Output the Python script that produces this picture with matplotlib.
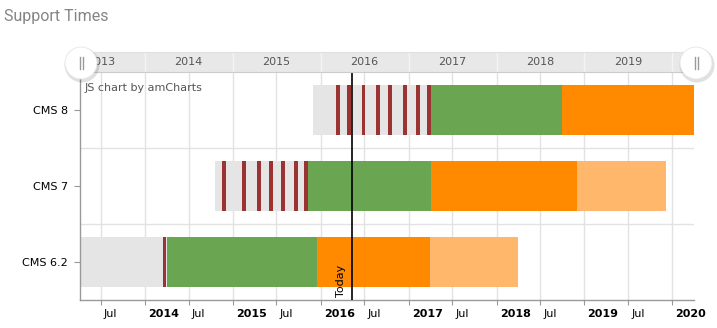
import matplotlib
matplotlib.use("Agg")
import matplotlib.pyplot as plt
import matplotlib.dates as mdates
from matplotlib.patches import Ellipse
from matplotlib.lines import Line2D
from matplotlib.transforms import ScaledTranslation, blended_transform_factory
import numpy as np

# ---------------- data ----------------
versions = ["CMS 6.2", "CMS 7", "CMS 8"]
prerelease_start = ["2012-10-01", "2014-10-19", "2015-11-29"]
mainstream_start = ["2014-04-01", "2015-11-09", "2017-04-03"]
extended_start = ["2015-12-15", "2017-04-03", "2018-10-01"]
extended_end = ["2017-03-31", "2018-12-01", "2020-06-30"]
sustaining_end = ["2018-04-01", "2019-12-05", None]

releases_62 = ["2014-03-15"]
releases_7 = ["2014-11-19", "2015-02-10", "2015-04-13", "2015-06-02",
              "2015-07-22", "2015-09-14", "2015-10-25"]
releases_8 = ["2016-03-06", "2016-04-18", "2016-06-19", "2016-08-17",
              "2016-10-06", "2016-12-07", "2017-01-30", "2017-03-19"]
release_lists = [releases_62, releases_7, releases_8]
release_days = 16

today = "2016-05-09"
axis_start = "2013-04-06"
axis_end = "2020-03-31"

tick_dates = ["2013-07-01", "2014-01-01", "2014-07-01", "2015-01-01", "2015-07-01",
              "2016-01-01", "2016-07-01", "2017-01-01", "2017-07-01", "2018-01-01",
              "2018-07-01", "2019-01-01", "2019-07-01", "2020-01-01"]
tick_labels = ["Jul", "2014", "Jul", "2015", "Jul", "2016", "Jul", "2017", "Jul",
               "2018", "Jul", "2019", "Jul", "2020"]
scroll_years = [2013, 2014, 2015, 2016, 2017, 2018, 2019]

# ---------------- style ----------------
c_grey = "#e5e5e5"
c_red = "#9b3333"
c_green = "#6aa552"
c_orange = "#ff8a00"
c_light = "#ffb76b"

W, H = 717, 328
fig = plt.figure(figsize=(W / 100, H / 100), dpi=100)
plt.rcParams["font.family"] = ["DejaVu Sans"]


def fx(px):
    return px / W


def fy(py):
    return 1 - py / H


d = mdates.datestr2num
x0, x1 = d(axis_start), d(axis_end)

ax = fig.add_axes([fx(80), fy(300), fx(694) - fx(80), fy(72) - fy(300)])
ax.set_xlim(x0, x1)
ax.set_ylim(-0.5, len(versions) - 0.5)

bh = 0.66
for i in range(len(versions)):
    a = d(prerelease_start[i]); b = d(mainstream_start[i])
    ax.barh(i, b - a, left=a, height=bh, color=c_grey, lw=0, zorder=2)
    a = d(mainstream_start[i]); b = d(extended_start[i])
    ax.barh(i, b - a, left=a, height=bh, color=c_green, lw=0, zorder=2)
    a = d(extended_start[i]); b = d(extended_end[i])
    ax.barh(i, b - a, left=a, height=bh, color=c_orange, lw=0, zorder=2)
    if sustaining_end[i] is not None:
        a = d(extended_end[i]); b = d(sustaining_end[i])
        ax.barh(i, b - a, left=a, height=bh, color=c_light, lw=0, zorder=2)
    rel = [d(r) for r in release_lists[i]]
    ax.barh([i] * len(rel), [release_days] * len(rel), left=rel, height=bh,
            color=c_red, lw=0, zorder=3)

# grid
ax.set_xticks([d(t) for t in tick_dates])
ax.set_xticklabels(tick_labels)
ax.grid(axis="x", color="#e2e2e2", lw=1, zorder=0)
ax.set_axisbelow(True)
for yy in np.arange(0.5, len(versions) - 0.5, 1.0):
    ax.axhline(yy, color="#e2e2e2", lw=1, zorder=0)

ax.set_yticks(range(len(versions)))
ax.set_yticklabels(versions)
ax.tick_params(axis="y", length=4.3, color="#999999", pad=4.5, labelsize=8, labelcolor="#000000")
ax.tick_params(axis="x", length=3.6, color="#999999", pad=3, labelsize=8, labelcolor="#000000")
off = ScaledTranslation(3 / 100, 0, fig.dpi_scale_trans)
for lab in ax.get_xticklabels():
    lab.set_ha("left")
    lab.set_transform(lab.get_transform() + off)
    if lab.get_text() != "Jul":
        lab.set_fontweight("bold")

for s in ["top", "right"]:
    ax.spines[s].set_visible(False)
for s in ["left", "bottom"]:
    ax.spines[s].set_color("#999999")
    ax.spines[s].set_linewidth(1)

# today line
t = d(today)
ax.axvline(t, color="black", lw=1.2, zorder=6)
trans = blended_transform_factory(ax.transData, ax.transAxes) + \
    ScaledTranslation(-6 / 100, 3 / 100, fig.dpi_scale_trans)
ax.text(t, 0, "Today", rotation=90, ha="right", va="bottom", fontsize=8,
        color="#000000", transform=trans, zorder=7)

# scrollbar
sax = fig.add_axes([fx(80), fy(72), fx(694) - fx(80), 20 / H])
sax.set_xlim(x0, x1)
sax.set_ylim(0, 1)
sax.set_facecolor("#e8e8e8")
sax.set_xticks([]); sax.set_yticks([])
for s in ["left", "right"]:
    sax.spines[s].set_visible(False)
sax.spines["top"].set_color("#e0e0e0")
sax.spines["bottom"].set_color("#cccccc")
for yv in scroll_years + [2020]:
    sax.axvline(d(f"{yv}-01-01"), color="#f4f4f4", lw=1)
for yv in scroll_years:
    sax.text(d(f"{yv}-07-01"), 0.5, str(yv), ha="center", va="center",
             fontsize=8, color="#555555", clip_on=True)

# grips
for cx in (81, 696):
    cy = 63
    r = 16
    fig.add_artist(Ellipse((fx(cx + 1), fy(cy + 2)), 2 * (r + 1.5) / W, 2 * (r + 1.5) / H,
                           color="#000000", alpha=0.12, lw=0, zorder=10))
    fig.add_artist(Ellipse((fx(cx), fy(cy)), 2 * r / W, 2 * r / H,
                           facecolor="white", edgecolor="#e6e6e6", lw=0.6, zorder=11))
    for dx in (-1.5, 1.5):
        fig.add_artist(Line2D([fx(cx + dx), fx(cx + dx)], [fy(57), fy(69)],
                              color="#9a9a9a", lw=1, zorder=12))

# texts
fig.text(fx(85), fy(88), "JS chart by amCharts", fontsize=8, color="#555555", va="center")
fig.text(fx(4), fy(21), "Support Times", fontsize=11.5, family=["Roboto", "DejaVu Sans"],
         color="#858585", va="baseline")

fig.savefig("out.png", dpi=100)
